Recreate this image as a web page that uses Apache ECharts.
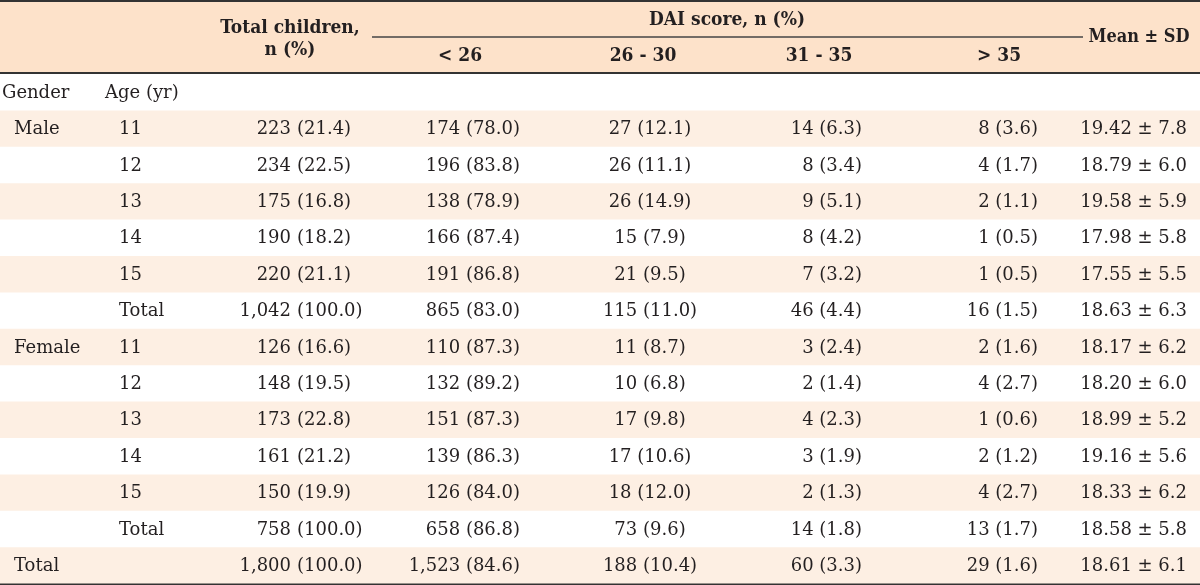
<!DOCTYPE html>
<html>
<head>
<meta charset="utf-8">
<script src="https://cdn.jsdelivr.net/npm/echarts@6/dist/echarts.min.js"></script>
<style>
html,body{margin:0;padding:0;background:#fff;}
#chart{width:1200px;height:585px;}
</style>
</head>
<body>
<div id="chart"></div>
<script>
// ---- data ----
const rowGender = ['Gender', 'Male', '', '', '', '', '', 'Female', '', '', '', '', '', 'Total'];
const rowAge = ['Age (yr)', '11', '12', '13', '14', '15', 'Total', '11', '12', '13', '14', '15', 'Total', ''];
const totalChildren = ['', '223 (21.4)', '234 (22.5)', '175 (16.8)', '190 (18.2)', '220 (21.1)', '1,042 (100.0)',
  '126 (16.6)', '148 (19.5)', '173 (22.8)', '161 (21.2)', '150 (19.9)', '758 (100.0)', '1,800 (100.0)'];
const daiLt26 = ['', '174 (78.0)', '196 (83.8)', '138 (78.9)', '166 (87.4)', '191 (86.8)', '865 (83.0)',
  '110 (87.3)', '132 (89.2)', '151 (87.3)', '139 (86.3)', '126 (84.0)', '658 (86.8)', '1,523 (84.6)'];
const dai26to30 = ['', '27 (12.1)', '26 (11.1)', '26 (14.9)', '15 (7.9)', '21 (9.5)', '115 (11.0)',
  '11 (8.7)', '10 (6.8)', '17 (9.8)', '17 (10.6)', '18 (12.0)', '73 (9.6)', '188 (10.4)'];
const dai31to35 = ['', '14 (6.3)', '8 (3.4)', '9 (5.1)', '8 (4.2)', '7 (3.2)', '46 (4.4)',
  '3 (2.4)', '2 (1.4)', '4 (2.3)', '3 (1.9)', '2 (1.3)', '14 (1.8)', '60 (3.3)'];
const daiGt35 = ['', '8 (3.6)', '4 (1.7)', '2 (1.1)', '1 (0.5)', '1 (0.5)', '16 (1.5)',
  '2 (1.6)', '4 (2.7)', '1 (0.6)', '2 (1.2)', '4 (2.7)', '13 (1.7)', '29 (1.6)'];
const meanSD = ['', '19.42 ± 7.8', '18.79 ± 6.0', '19.58 ± 5.9', '17.98 ± 5.8', '17.55 ± 5.5', '18.63 ± 6.3',
  '18.17 ± 6.2', '18.20 ± 6.0', '18.99 ± 5.2', '19.16 ± 5.6', '18.33 ± 6.2', '18.58 ± 5.8', '18.61 ± 6.1'];

const headTotal = ['Total children,', 'n (%)'];
const headGroup = 'DAI score, n (%)';
const headSub = ['< 26', '26 - 30', '31 - 35', '> 35'];
const headMean = 'Mean ± SD';

// ---- styles / layout ----
const TEXT = '#231f20';
const HEAD_BG = '#fde2ca';
const STRIPE = '#fdefe3';
const BODY_FONT = '18px "DejaVu Serif", serif';
const HEAD_FONT = 'bold 19px "DejaVu Serif Condensed", "DejaVu Serif", serif';
const MEAN_FONT = 'bold 18px "DejaVu Serif Condensed", "DejaVu Serif", serif';

// column layout: [values, mode, anchor x]
const columns = [
  [totalChildren, 'split', 291],
  [daiLt26, 'right', 520],
  [dai26to30, 'center', 650],
  [dai31to35, 'right', 862],
  [daiGt35, 'right', 1038],
  [meanSD, 'right', 1187]
];

function txt(x, y, text, align, font) {
  return { type: 'text', x: x, y: y, style: { text: text, align: align, verticalAlign: 'middle', fill: TEXT, font: font } };
}

const chart = echarts.init(document.getElementById('chart'), null, { renderer: 'canvas' });

chart.setOption({
  animation: false,
  backgroundColor: '#fff',
  grid: { left: 0, right: 0, top: 74, bottom: 1.4 },
  xAxis: { type: 'value', min: 0, max: 1200, show: false },
  yAxis: { type: 'category', inverse: true, data: rowAge.map((_, i) => String(i)), show: false },
  graphic: [
    { type: 'rect', shape: { x: 0, y: 0, width: 1200, height: 73 }, style: { fill: HEAD_BG }, z: 0 },
    { type: 'line', shape: { x1: 0, y1: 1, x2: 1200, y2: 1 }, style: { stroke: '#333', lineWidth: 2 } },
    { type: 'line', shape: { x1: 0, y1: 73, x2: 1200, y2: 73 }, style: { stroke: '#333', lineWidth: 2 } },
    { type: 'line', shape: { x1: 0, y1: 584, x2: 1200, y2: 584 }, style: { stroke: '#333', lineWidth: 2 } },
    { type: 'line', shape: { x1: 372, y1: 37, x2: 1083, y2: 37 }, style: { stroke: '#444', lineWidth: 1.3 } },
    txt(290, 28, headTotal[0], 'center', HEAD_FONT),
    txt(290, 50, headTotal[1], 'center', HEAD_FONT),
    txt(727, 20, headGroup, 'center', HEAD_FONT),
    txt(460, 56, headSub[0], 'center', HEAD_FONT),
    txt(643, 56, headSub[1], 'center', HEAD_FONT),
    txt(819, 56, headSub[2], 'center', HEAD_FONT),
    txt(999, 56, headSub[3], 'center', HEAD_FONT),
    txt(1139, 37, headMean, 'center', MEAN_FONT)
  ],
  series: [{
    type: 'custom',
    coordinateSystem: 'cartesian2d',
    data: rowAge.map((_, i) => [0, i]),
    encode: { x: 0, y: 1 },
    renderItem: function (params, api) {
      const i = api.value(1);
      const c = api.coord([0, i]);
      const h = api.size([0, 1])[1];
      const y = c[1];
      const kids = [];
      if (i % 2 === 1) {
        kids.push({ type: 'rect', shape: { x: c[0], y: y - h / 2, width: params.coordSys.width, height: h }, style: { fill: STRIPE } });
      }
      const gx = api.coord([i === 0 ? 2 : 14, i])[0];
      const ax = api.coord([i === 0 ? 105 : 119, i])[0];
      if (rowGender[i]) kids.push(txt(gx, y + 1, rowGender[i], 'left', BODY_FONT));
      if (rowAge[i]) kids.push(txt(ax, y + 1, rowAge[i], 'left', BODY_FONT));
      columns.forEach(function (col) {
        const s = col[0][i];
        if (!s) return;
        const x = api.coord([col[2], i])[0];
        if (col[1] === 'split') {
          const p = s.indexOf(' ');
          kids.push(txt(x, y + 1, s.slice(0, p), 'right', BODY_FONT));
          kids.push(txt(x + 6, y + 1, s.slice(p + 1), 'left', BODY_FONT));
        } else {
          kids.push(txt(x, y + 1, s, col[1], BODY_FONT));
        }
      });
      return { type: 'group', children: kids };
    }
  }]
});
</script>
</body>
</html>
